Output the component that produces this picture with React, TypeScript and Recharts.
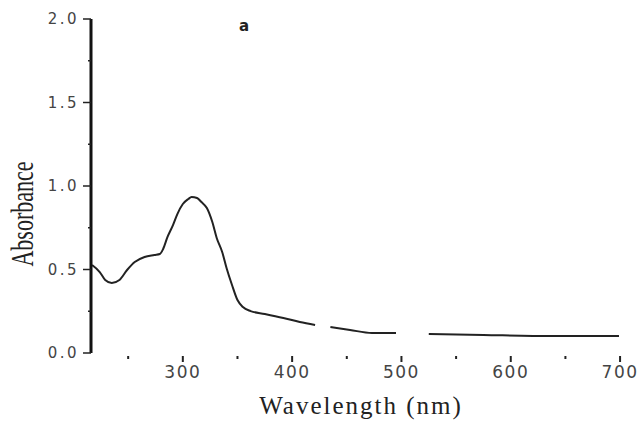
import { LineChart, Line, XAxis, YAxis, Customized } from 'recharts';

// absorption spectrum, read in nm / absorbance units
const wavelength = [217, 224, 229, 235, 242, 249, 256, 265, 274, 279, 282, 286, 291, 295, 300, 305, 308, 313, 317, 322, 327, 331, 336, 340, 345, 350, 355, 362, 375, 392, 407, 421, 426, 435, 453, 473, 495, 510, 525, 575, 637, 699];
const absorbance = [0.527, 0.485, 0.437, 0.419, 0.437, 0.497, 0.545, 0.575, 0.587, 0.593, 0.623, 0.695, 0.766, 0.832, 0.892, 0.922, 0.934, 0.928, 0.904, 0.868, 0.784, 0.689, 0.605, 0.509, 0.407, 0.317, 0.275, 0.251, 0.234, 0.21, 0.186, 0.168, null, 0.156, 0.138, 0.12, 0.12, null, 0.114, 0.108, 0.102, 0.102];

const xTicks = [250, 300, 350, 400, 450, 500, 550, 600, 650, 700];
const yTicks = [0, 0.25, 0.5, 0.75, 1, 1.25, 1.5, 1.75, 2];

const spectrum = wavelength.map((nm, i) => ({ nm, a: absorbance[i] }));

const tickFont = { fontFamily: '"DejaVu Sans", Verdana, sans-serif', fill: '#444' };

const XTick = ({ x, y, payload }: any) => {
    const major = payload.value % 100 === 0;
    return (
        <g>
            <line x1={x} x2={x} y1={y + 3} y2={y + (major ? 9 : 6)} stroke="#222" strokeWidth={2} />
            {major && (
                <text x={x} y={y + 25} textAnchor="middle" fontSize={17} letterSpacing={1.5} {...tickFont}>
                    {payload.value}
                </text>
            )}
        </g>
    );
};

const YTick = ({ x, y, payload }: any) => {
    const v = payload.value;
    const major = Math.abs(v * 2 - Math.round(v * 2)) < 1e-6;
    return (
        <g>
            <line x1={x - (major ? 8 : 3)} x2={x} y1={y} y2={y} stroke="#222" strokeWidth={1.5} />
            {major && (
                <text x={x - 12} y={y + 5} textAnchor="end" fontSize={15} letterSpacing={2.5} {...tickFont}>
                    {v.toFixed(1)}
                </text>
            )}
        </g>
    );
};

const Titles = () => (
    <g fontFamily='"Liberation Serif", "Times New Roman", serif' fill="#222">
        <text x={361} y={414} textAnchor="middle" fontSize={25} letterSpacing={2}>
            Wavelength (nm)
        </text>
        <text transform="translate(33,214) scale(1.4,1) rotate(-90)" textAnchor="middle" fontSize={22}>
            Absorbance
        </text>
        <text x={244} y={31} textAnchor="middle" fontSize={15} fontWeight="bold" fontFamily='"DejaVu Sans", sans-serif'>
            a
        </text>
    </g>
);

export default function App() {
    return (
        <div style={{ position: 'absolute', left: 0, top: 0, width: 638, height: 421, background: '#fff' }}>
            <LineChart width={638} height={421} data={spectrum} margin={{ top: 19, right: 7, bottom: 0, left: 0 }}>
                <XAxis
                    dataKey="nm"
                    type="number"
                    domain={[216, 710]}
                    ticks={xTicks}
                    height={68}
                    axisLine={false}
                    tickLine={false}
                    tickSize={0}
                    tickMargin={0}
                    tick={XTick}
                    interval={0}
                />
                <YAxis
                    type="number"
                    domain={[0, 2]}
                    ticks={yTicks}
                    width={91}
                    axisLine={{ stroke: '#111', strokeWidth: 3 }}
                    tickLine={false}
                    tickSize={0}
                    tickMargin={0}
                    tick={YTick}
                    interval={0}
                />
                <Line
                    dataKey="a"
                    type="monotone"
                    stroke="#222"
                    strokeWidth={2}
                    dot={false}
                    connectNulls={false}
                    isAnimationActive={false}
                />
                <Customized component={Titles} />
            </LineChart>
        </div>
    );
}
